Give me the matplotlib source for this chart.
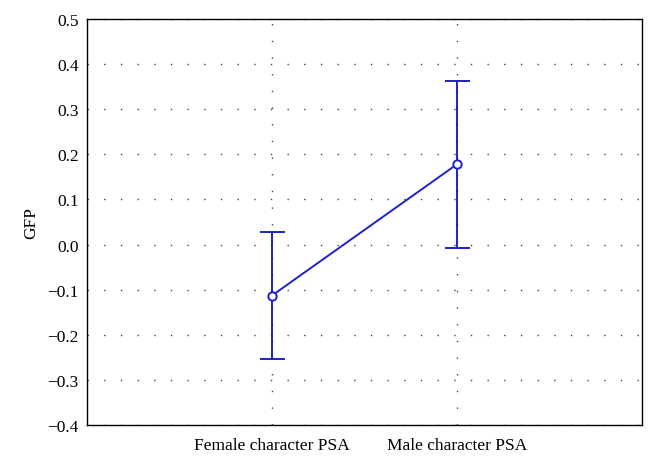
import matplotlib
matplotlib.use("Agg")
import matplotlib.pyplot as plt
import numpy as np

# data
categories = ["Female character PSA", "Male character PSA"]
means = [-0.113, 0.178]
upper = [0.027, 0.362]
lower = [-0.253, -0.007]
yticks = [-0.4, -0.3, -0.2, -0.1, 0.0, 0.1, 0.2, 0.3, 0.4, 0.5]

plt.rcParams['font.family'] = ['Liberation Serif', 'DejaVu Serif']

fig = plt.figure(figsize=(6.58, 4.64), dpi=100)
ax = fig.add_axes([87 / 658, 38 / 464, 555 / 658, 406 / 464])

x = np.arange(len(categories))
m = np.array(means)
yerr = [m - np.array(lower), np.array(upper) - m]
ax.errorbar(x, m, yerr=yerr, color="#2020cc", lw=1.4, capsize=9, capthick=1.4,
            marker="o", markersize=6, markerfacecolor="white", markeredgecolor="#2020cc",
            markeredgewidth=1.4, zorder=3)

ax.set_xlim(-1, 2)
ax.set_ylim(-0.4, 0.5)
ax.set_yticks(yticks)
ax.set_yticklabels([f"{v:.1f}".replace("-", "\u2212") for v in yticks])
ax.set_xticks(x)
ax.set_xticklabels(categories)
ax.tick_params(length=0, labelsize=12.5, pad=6)
ax.tick_params(axis="x", pad=9)
ax.grid(True, color="#444444", linestyle=(0, (1, 11)), lw=1.0)
for s in ax.spines.values():
    s.set_linewidth(1.0)
ax.set_ylabel("GFP", fontsize=12.5, labelpad=6)

fig.savefig("out.png", dpi=100)
